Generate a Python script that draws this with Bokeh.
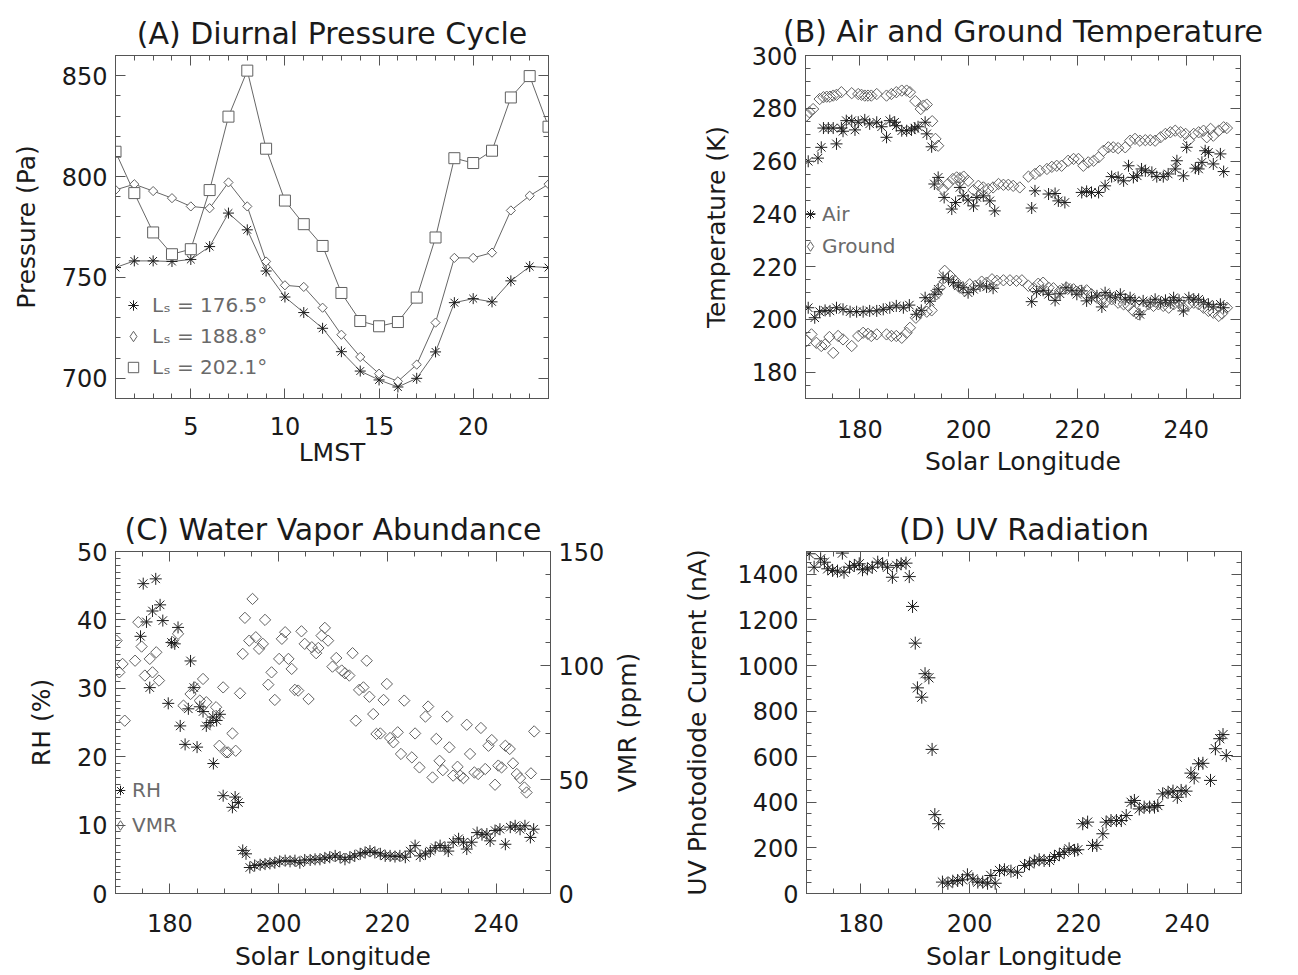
import math
from bokeh.plotting import figure
from bokeh.models import (Range1d, LinearAxis, SingleIntervalTicker, FixedTicker, Legend,
                          LegendItem)
from bokeh.layouts import column, row
from bokeh.embed import file_html
from bokeh.resources import INLINE

# ---------------- Panel A: diurnal pressure cycle ----------------
lmst = [1, 2, 3, 4, 5, 6, 7, 8, 9, 10, 11, 12, 13, 14, 15, 16, 17, 18, 19, 20, 21, 22, 23, 24]
p_1765 = [754.9, 758.2, 758.2, 757.9, 758.9, 765.3, 781.9, 773.6, 753.2, 740.3, 732.6, 724.8,
          713.2, 703.6, 699.2, 695.7, 700.0, 713.1, 737.5, 739.5, 737.9, 748.3, 755.4, 754.9]
p_1888 = [793.4, 796.2, 792.8, 789.3, 785.2, 784.3, 797.1, 785.2, 757.9, 746.1, 745.3, 735.0,
          721.6, 710.6, 702.3, 698.5, 706.8, 727.6, 759.7, 759.7, 762.3, 783.2, 790.5, 796.2]
p_2021 = [812.3, 791.8, 772.3, 761.5, 764.0, 793.3, 829.7, 852.5, 813.8, 788.1, 776.4, 765.6,
          742.3, 728.4, 725.8, 727.9, 740.0, 769.8, 809.1, 806.7, 812.8, 839.2, 849.8, 824.7]
legend_a = ["L\u209b = 176.5\u00b0", "L\u209b = 188.8\u00b0", "L\u209b = 202.1\u00b0"]

# ---------------- Panel B: air and ground temperature ----------------
air_max_ls = [170.5, 172.3, 172.9, 173.3, 174.2, 175.1, 175.7, 176.6, 176.9, 177.5, 178.5, 179.1,
              179.7, 180.9, 181.8, 183.1, 184.0, 184.9, 185.5, 186.4, 186.7, 187.7, 188.6, 189.5,
              190.1, 190.7, 192.0, 192.3, 193.2, 193.7, 194.4, 195.5, 196.9, 197.6, 198.4, 199.0,
              199.9, 200.9, 201.5, 202.7, 203.9, 204.8, 211.6, 212.2, 214.7, 215.9, 216.5, 217.7,
              220.8, 221.7, 222.6, 223.9, 225.1, 226.3, 227.5, 228.5, 229.4, 230.3, 231.0, 231.8,
              232.5, 233.7, 234.6, 235.8, 236.7, 238.0, 238.3, 239.5, 240.1, 241.7, 242.3, 242.9,
              243.5, 244.1, 245.0, 246.3, 246.9]
air_max_t = [259.9, 261.1, 265.2, 272.5, 272.5, 272.5, 266.5, 272.5, 271.3, 275.3, 275.3, 271.8,
             274.7, 275.6, 274.1, 274.7, 273.0, 269.0, 275.3, 274.7, 273.4, 271.5, 271.5, 271.8,
             272.5, 273.0, 274.7, 270.3, 265.4, 251.3, 253.8, 246.2, 241.8, 244.3, 250.0, 246.8,
             245.2, 243.0, 246.2, 246.8, 244.9, 241.1, 242.2, 248.7, 247.5, 247.7, 244.9, 244.3,
             248.1, 248.5, 248.1, 248.1, 250.6, 254.1, 253.8, 252.5, 258.2, 253.8, 254.4, 257.0,
             256.3, 255.7, 254.1, 254.1, 255.1, 257.0, 260.1, 254.4, 265.2, 257.3, 257.0, 259.5,
             263.9, 263.3, 258.9, 262.7, 256.0]
gnd_max_ls = [170.2, 170.7, 171.4, 172.6, 173.3, 173.9, 174.5, 175.1, 175.7, 176.6, 178.5, 179.7,
              180.3, 180.9, 181.5, 182.1, 183.1, 184.9, 185.8, 186.7, 187.7, 188.6, 189.2, 190.2,
              191.2, 191.7, 192.3, 193.3, 193.9, 194.4, 194.4, 195.3, 196.2, 197.1, 197.8, 198.4,
              199.1, 199.9, 200.9, 201.8, 202.7, 203.6, 204.5, 205.5, 206.4, 207.3, 208.2, 209.4,
              211.0, 212.2, 213.1, 214.4, 215.3, 216.2, 217.1, 218.3, 219.3, 220.2, 221.1, 222.0,
              223.0, 223.9, 224.8, 225.7, 226.6, 227.5, 228.8, 229.7, 230.6, 231.5, 232.5, 233.4,
              234.3, 235.3, 236.2, 237.1, 238.0, 239.0, 239.9, 240.5, 241.4, 242.3, 243.2, 243.8,
              244.5, 245.0, 246.0, 246.9, 247.5]
gnd_max_t = [277.2, 278.5, 279.7, 283.5, 284.2, 284.4, 284.4, 284.8, 285.1, 286.1, 285.7, 285.4,
             285.1, 284.8, 284.8, 284.8, 285.4, 284.8, 285.4, 286.1, 286.7, 286.7, 286.1, 282.7,
             279.7, 281.0, 281.4, 275.1, 268.4, 265.8, 251.0, 249.4, 251.3, 253.2, 253.8, 253.5,
             254.1, 252.5, 249.0, 250.6, 250.0, 249.4, 250.0, 251.3, 251.0, 251.0, 250.6, 250.0,
             254.1, 255.1, 256.3, 257.0, 257.8, 258.2, 258.2, 260.1, 260.8, 260.8, 258.2, 259.5,
             260.1, 261.4, 263.9, 265.2, 265.2, 264.9, 265.2, 267.7, 268.4, 267.7, 267.9, 267.9,
             267.7, 269.0, 270.3, 270.9, 271.5, 270.9, 270.3, 267.9, 270.3, 270.9, 271.5, 269.0,
             272.2, 269.6, 271.5, 272.8, 272.5]
air_min_ls = [170.5, 171.7, 172.6, 173.6, 174.5, 175.7, 176.9, 178.2, 179.4, 180.6, 181.8, 183.1,
              184.3, 185.5, 186.7, 188.0, 189.1, 190.4, 191.3, 192.0, 192.9, 193.8, 194.4, 195.3,
              196.3, 197.2, 198.1, 199.0, 199.9, 200.9, 202.1, 203.3, 204.5, 211.6, 212.5, 213.7,
              214.7, 215.9, 216.8, 217.9, 219.0, 219.9, 220.8, 221.7, 222.6, 223.6, 224.5, 225.1,
              226.0, 227.0, 227.9, 228.8, 229.7, 230.6, 231.5, 232.1, 233.4, 234.3, 235.3, 236.2,
              237.1, 237.7, 238.7, 239.5, 240.5, 241.4, 242.3, 243.2, 244.1, 245.0, 246.3, 246.9]
air_min_t = [204.4, 200.6, 202.9, 203.4, 203.2, 204.4, 203.8, 202.9, 202.9, 202.9, 203.2, 203.2,
             203.8, 204.4, 205.1, 204.4, 205.4, 201.9, 203.4, 208.2, 206.9, 209.5, 211.4, 215.8,
             215.2, 213.9, 212.7, 212.0, 210.1, 211.4, 212.7, 212.3, 211.8, 206.7, 210.5, 211.0,
             209.5, 207.2, 209.7, 212.0, 211.0, 209.5, 210.8, 207.0, 208.2, 208.9, 204.7, 210.1,
             208.9, 208.2, 209.5, 207.6, 208.2, 207.0, 201.9, 207.0, 206.3, 207.6, 206.3, 207.2,
             206.3, 208.2, 207.2, 203.2, 208.2, 207.6, 207.6, 206.3, 205.7, 204.7, 205.7, 204.4]
gnd_min_ls = [170.2, 171.1, 172.0, 172.9, 173.6, 174.4, 175.1, 176.0, 176.9, 178.5, 179.7, 180.6,
              181.5, 182.1, 183.1, 184.9, 185.8, 186.7, 187.7, 188.6, 189.2, 190.3, 191.0, 192.3,
              193.2, 194.1, 194.7, 195.6, 196.6, 197.5, 198.4, 199.3, 200.2, 201.2, 202.4, 203.3,
              204.3, 205.2, 206.4, 207.6, 208.8, 209.8, 211.0, 212.0, 212.8, 213.7, 214.7, 215.6,
              216.8, 218.0, 219.3, 220.5, 221.7, 222.6, 223.6, 224.5, 225.4, 226.3, 227.5, 228.5,
              229.4, 230.3, 231.2, 232.1, 233.1, 234.0, 234.9, 235.8, 236.8, 237.7, 238.7, 239.5,
              240.5, 241.4, 242.3, 243.2, 244.1, 245.0, 246.0, 246.6, 247.5]
gnd_min_t = [191.8, 194.3, 191.1, 189.9, 190.5, 193.3, 187.3, 193.7, 192.4, 189.9, 193.7, 194.9,
             194.5, 193.7, 194.3, 194.3, 193.7, 193.7, 193.0, 194.9, 196.8, 200.6, 202.5, 202.9,
             203.4, 209.5, 212.0, 218.4, 216.5, 214.6, 212.0, 210.8, 213.3, 212.7, 214.3, 213.9,
             215.2, 214.6, 214.8, 214.8, 214.6, 214.8, 212.7, 211.8, 213.5, 213.9, 212.0, 211.8,
             210.8, 212.0, 211.4, 210.8, 211.0, 209.5, 208.2, 207.6, 207.0, 207.6, 206.3, 205.7,
             205.1, 203.2, 201.9, 204.4, 205.7, 205.1, 205.7, 205.1, 204.4, 205.7, 206.3, 204.4,
             205.7, 206.3, 205.7, 204.4, 203.2, 202.5, 201.3, 202.2, 204.4]

# ---------------- Panel C: water vapor ----------------
rh_ls = [175.1, 175.7, 174.6, 176.3, 176.8, 177.4, 178.2, 178.7, 179.7, 180.3, 180.9, 181.5,
         181.9, 182.8, 183.4, 183.8, 184.4, 185.0, 185.5, 186.1, 186.7, 187.4, 187.9, 188.6,
         189.2, 188.0, 189.8, 191.5, 192.0, 192.6, 193.4, 194.0, 194.7, 195.6, 196.6, 197.5,
         198.4, 199.3, 200.2, 201.2, 202.1, 203.0, 203.9, 204.8, 205.8, 206.7, 207.6, 208.5,
         209.4, 210.4, 211.3, 212.2, 213.1, 214.0, 215.0, 215.9, 216.8, 217.7, 218.7, 219.6,
         220.5, 221.4, 222.3, 223.3, 224.2, 225.1, 226.0, 227.0, 227.9, 228.8, 229.7, 230.6,
         231.2, 232.1, 233.1, 234.0, 234.6, 235.5, 236.5, 237.4, 238.3, 238.9, 239.8, 240.7,
         241.7, 242.6, 243.5, 244.4, 245.3, 246.3, 246.9]
rh_val = [45.3, 39.7, 37.6, 30.1, 41.3, 46.0, 42.2, 39.9, 27.8, 36.7, 36.5, 38.9,
          24.5, 21.8, 27.0, 34.0, 30.1, 21.4, 27.3, 26.6, 24.5, 25.0, 25.8, 25.3,
          26.2, 19.0, 14.3, 12.6, 14.1, 13.3, 6.3, 5.8, 3.8, 4.1, 4.2, 4.3,
          4.4, 4.5, 4.7, 4.8, 4.7, 4.8, 4.5, 4.9, 4.9, 5.0, 5.0, 5.2,
          5.3, 5.5, 5.3, 5.0, 5.3, 5.5, 5.8, 6.0, 6.2, 6.0, 5.8, 5.5,
          5.5, 5.4, 5.5, 5.3, 6.2, 7.0, 5.5, 5.8, 6.2, 6.7, 7.0, 6.7,
          6.2, 7.5, 8.0, 7.5, 6.5, 7.5, 8.9, 8.6, 8.7, 7.7, 9.2, 9.4,
          7.2, 9.7, 9.9, 9.4, 9.9, 8.2, 9.4]
vmr_ls = [170.2, 170.7, 171.3, 171.7, 173.6, 174.2, 174.8, 175.4, 176.3, 176.8, 177.5, 178.0,
          180.5, 181.5, 182.5, 183.8, 184.6, 185.5, 186.1, 186.7, 188.5, 189.1, 189.8, 190.3,
          190.7, 191.5, 192.1, 192.9, 193.4, 193.8, 194.6, 195.2, 195.8, 196.4, 197.1, 197.5,
          198.1, 198.7, 199.3, 200.1, 200.6, 201.2, 201.8, 202.4, 203.0, 203.6, 204.2, 204.8,
          205.5, 206.1, 206.9, 207.3, 207.9, 208.5, 209.1, 209.9, 210.6, 211.6, 212.2, 213.0,
          213.6, 214.2, 214.8, 215.6, 216.2, 216.7, 217.4, 218.0, 218.7, 219.3, 219.9, 220.5,
          221.1, 221.9, 222.5, 223.1, 224.5, 225.1, 225.9, 227.0, 227.5, 228.3, 229.0, 229.6,
          230.2, 231.0, 231.4, 232.1, 232.9, 233.4, 234.0, 234.6, 235.2, 236.0, 236.7, 237.2,
          238.0, 238.6, 239.2, 239.8, 240.4, 241.0, 241.7, 242.5, 243.1, 243.8, 244.4, 245.2,
          245.6, 246.4, 247.0]
vmr_val = [110.9, 97.0, 100.7, 75.8, 102.1, 119.0, 108.3, 95.6, 102.9, 97.0, 105.8, 93.4,
           110.2, 113.9, 82.4, 87.5, 90.4, 84.6, 94.1, 83.9, 81.7, 64.8, 90.4, 61.9,
           61.9, 70.2, 62.6, 87.8, 105.1, 120.9, 110.9, 129.2, 112.4, 107.3, 109.5, 120.0,
           91.6, 97.0, 84.9, 102.9, 111.7, 114.6, 102.9, 98.5, 89.3, 89.0, 115.0, 109.5,
           85.3, 108.0, 105.4, 107.7, 113.1, 116.5, 110.9, 99.5, 103.3, 97.8, 96.6, 95.6,
           105.4, 75.8, 89.3, 90.4, 102.1, 86.3, 78.7, 70.0, 70.2, 84.9, 91.9, 68.2,
           66.3, 70.7, 61.2, 84.6, 59.7, 70.2, 55.3, 77.6, 82.0, 50.9, 67.8, 58.2,
           54.1, 77.6, 64.1, 51.7, 55.6, 51.7, 50.6, 74.0, 61.2, 53.1, 52.4, 72.6,
           54.6, 64.8, 67.3, 47.7, 56.1, 55.3, 64.8, 63.4, 57.1, 52.4, 50.6, 46.5,
           44.3, 52.7, 71.1]

# ---------------- Panel D: UV radiation ----------------
uv_ls = [170.5, 171.4, 172.6, 173.3, 173.9, 174.8, 175.7, 176.6, 176.9, 177.9, 178.8, 179.7,
         180.3, 181.2, 182.1, 183.1, 184.0, 184.9, 185.8, 186.6, 187.4, 188.3, 188.9, 189.5,
         190.0, 190.4, 191.2, 191.8, 192.5, 193.1, 193.6, 194.3, 195.0, 196.0, 196.9, 197.8,
         198.7, 199.6, 200.6, 201.5, 202.4, 203.3, 203.9, 204.7, 205.5, 206.4, 207.6, 208.8,
         210.1, 211.0, 211.9, 212.8, 213.7, 214.7, 215.6, 216.5, 217.4, 218.3, 219.3, 219.9,
         220.8, 221.7, 222.6, 223.4, 224.5, 225.1, 226.0, 227.0, 227.9, 228.8, 229.7, 230.3,
         231.2, 232.1, 233.1, 234.0, 234.6, 235.5, 236.5, 237.4, 238.2, 238.9, 239.8, 240.7,
         241.3, 242.1, 242.9, 244.3, 245.2, 246.0, 246.6, 247.2]
uv_val = [1490, 1431, 1468, 1453, 1424, 1417, 1414, 1493, 1409, 1431, 1439, 1446,
          1420, 1424, 1431, 1453, 1446, 1431, 1387, 1439, 1446, 1449, 1390, 1259,
          1098, 902, 861, 964, 946, 632, 346, 306, 50, 45, 54, 57,
          60, 82, 64, 50, 50, 45, 79, 45, 101, 104, 98, 93,
          123, 130, 142, 148, 145, 145, 162, 171, 181, 196, 189, 192,
          306, 313, 211, 211, 262, 313, 320, 320, 320, 342, 400, 408,
          371, 379, 379, 379, 386, 437, 444, 449, 422, 452, 449, 528,
          507, 569, 571, 496, 635, 679, 697, 605]

FONT = "DejaVu Sans"
AX = "#555555"
TXT = "#1a1a1a"
LEG = "#6a6a6a"
STAR = "#1e1e1e"
DIA = "#606060"


def style_axis(ax, interval, minor, labels=True, xstand=None):
    ax.ticker = SingleIntervalTicker(interval=interval, num_minor_ticks=minor)
    ax.major_tick_in = 10
    ax.major_tick_out = 0
    ax.minor_tick_in = 5
    ax.minor_tick_out = 0
    ax.major_tick_line_color = AX
    ax.minor_tick_line_color = AX
    ax.axis_line_color = AX
    ax.major_label_text_font = FONT
    if labels:
        ax.major_label_text_color = TXT
        ax.major_label_text_font_size = "24px"
        ax.major_label_standoff = xstand if xstand is not None else 8
    else:
        ax.major_label_text_color = None
        ax.major_label_text_font_size = "1px"
        ax.major_label_standoff = 0
    ax.axis_label_text_font = FONT
    ax.axis_label_text_font_size = "25px"
    ax.axis_label_text_font_style = "normal"
    ax.axis_label_text_color = TXT


def make_fig(title, xr, yr, bl, fw, br, bt, fh, bb, tstand=9):
    p = figure(x_range=Range1d(*xr), y_range=Range1d(*yr), frame_width=fw, frame_height=fh,
               min_border_left=bl, min_border_right=br, min_border_top=bt, min_border_bottom=bb,
               output_backend="svg", toolbar_location=None, title=title)
    p.grid.visible = False
    p.outline_line_color = AX
    p.background_fill_color = "white"
    p.border_fill_color = "white"
    p.title.text_font = FONT
    p.title.text_font_size = "30px"
    p.title.text_font_style = "normal"
    p.title.text_color = TXT
    p.title.align = "center"
    p.title.standoff = tstand
    return p


def mirror(p, xint, xminor, yint, yminor, right=True):
    top = LinearAxis()
    style_axis(top, xint, xminor, labels=False)
    p.add_layout(top, "above")
    if right:
        r = LinearAxis()
        style_axis(r, yint, yminor, labels=False)
        p.add_layout(r, "right")


def make_legend(p, items, loc, gw, gh, spacing, standoff, fsize):
    leg = Legend(items=items, location=loc, orientation="vertical",
                 background_fill_alpha=0, border_line_color=None, padding=0, margin=0,
                 glyph_width=gw, glyph_height=gh, label_height=gh, spacing=spacing,
                 label_standoff=standoff, label_text_font=FONT, label_text_font_size=fsize,
                 label_text_color=LEG, inactive_fill_alpha=0)
    p.add_layout(leg, "center")


# ---------- A ----------
pa = make_fig("(A) Diurnal Pressure Cycle", (1, 24), (690, 860), 115, 433, 101, 54, 343, 90)
style_axis(pa.xaxis[0], 5, 5, xstand=18)
style_axis(pa.yaxis[0], 50, 5)
pa.xaxis[0].axis_label = "LMST"
pa.yaxis[0].axis_label = "Pressure (Pa)"
pa.yaxis[0].axis_label_standoff = 18
pa.xaxis[0].axis_label_standoff = 0
mirror(pa, 5, 5, 50, 5)
for ser in (p_1765, p_1888, p_2021):
    pa.line(lmst, ser, line_color="#666666", line_width=1)
ra1 = pa.scatter(lmst, p_1765, marker="asterisk", size=11, line_color=STAR, line_width=1)
pa.scatter(lmst, p_1888, marker="square", angle=math.pi / 4, size=6.5,
           line_color=DIA, fill_color="white", line_width=1)
ra3 = pa.scatter(lmst, p_2021, marker="square", size=11, line_color=DIA, fill_color="white",
                 line_width=1)
ra2 = pa.scatter(lmst, p_1888, marker="diamond", line_color=DIA, fill_color=None, line_width=1,
                 visible=False)
make_legend(pa, [LegendItem(label=legend_a[0], renderers=[ra1]),
                 LegendItem(label=legend_a[1], renderers=[ra2]),
                 LegendItem(label=legend_a[2], renderers=[ra3])],
            (5, 18), 26, 26, 5, 6, "20px")

# ---------- B ----------
pb = make_fig("(B) Air and Ground Temperature", (170, 250), (170, 300), 156, 435, 58, 55, 343, 89,
              tstand=13)
style_axis(pb.xaxis[0], 20, 4, xstand=21)
style_axis(pb.yaxis[0], 20, 4)
pb.xaxis[0].axis_label = "Solar Longitude"
pb.yaxis[0].axis_label = "Temperature (K)"
pb.yaxis[0].axis_label_standoff = 18
pb.xaxis[0].axis_label_standoff = 6
mirror(pb, 20, 4, 20, 4)
rb1 = pb.scatter(air_max_ls, air_max_t, marker="asterisk", size=12, line_color=STAR, line_width=1)
pb.scatter(air_min_ls, air_min_t, marker="asterisk", size=12, line_color=STAR, line_width=1)
pb.scatter(gnd_max_ls, gnd_max_t, marker="square", angle=math.pi / 4, size=8,
           line_color=DIA, fill_color=None, line_width=1)
pb.scatter(gnd_min_ls, gnd_min_t, marker="square", angle=math.pi / 4, size=8,
           line_color=DIA, fill_color=None, line_width=1)
rb2 = pb.scatter(gnd_max_ls, gnd_max_t, marker="diamond", line_color=DIA, fill_color=None,
                 line_width=1, visible=False)
make_legend(pb, [LegendItem(label="Air", renderers=[rb1]),
                 LegendItem(label="Ground", renderers=[rb2])],
            (-7, 138), 24, 28, 4, 0, "20px")

# ---------- C ----------
pc = make_fig("(C) Water Vapor Abundance", (170, 250), (0, 50), 115, 435, 56, 64, 342, 82)
style_axis(pc.xaxis[0], 20, 4, xstand=20)
style_axis(pc.yaxis[0], 10, 10)
pc.xaxis[0].axis_label = "Solar Longitude"
pc.yaxis[0].axis_label = "RH (%)"
pc.yaxis[0].axis_label_standoff = 18
pc.xaxis[0].axis_label_standoff = 7
mirror(pc, 20, 4, 10, 10, right=False)
pc.extra_y_ranges = {"vmr": Range1d(0, 150)}
rax = LinearAxis(y_range_name="vmr")
style_axis(rax, 50, 5)
pc.add_layout(rax, "right")
rc1 = pc.scatter(rh_ls, rh_val, marker="asterisk", size=12, line_color=STAR, line_width=1)
pc.scatter(vmr_ls, vmr_val, marker="square", angle=math.pi / 4, size=8,
           line_color=DIA, fill_color=None, line_width=1, y_range_name="vmr")
rc2 = pc.scatter(vmr_ls, vmr_val, marker="diamond", line_color=DIA, fill_color=None,
                 line_width=1, y_range_name="vmr", visible=False)
make_legend(pc, [LegendItem(label="RH", renderers=[rc1]),
                 LegendItem(label="VMR", renderers=[rc2])],
            (-7, 54), 24, 28, 7, 0, "20px")

# ---------- D ----------
pd_ = make_fig("(D) UV Radiation", (170, 250), (0, 1500), 199, 435, 58, 64, 342, 82)
style_axis(pd_.xaxis[0], 20, 4, xstand=20)
style_axis(pd_.yaxis[0], 200, 4)
pd_.xaxis[0].axis_label = "Solar Longitude"
pd_.yaxis[0].axis_label = "UV Photodiode Current (nA)"
pd_.yaxis[0].axis_label_standoff = 22
pd_.xaxis[0].axis_label_standoff = 7
mirror(pd_, 20, 4, 200, 4)
pd_.scatter(uv_ls, uv_val, marker="asterisk", size=13, line_color=STAR, line_width=1)

# the VMR axis title of panel C sits in the gap between panels C and D
pd_.extra_y_ranges = {"vmr_title": Range1d(0, 1)}
vmr_title = LinearAxis(y_range_name="vmr_title", axis_label="VMR (ppm)")
vmr_title.ticker = FixedTicker(ticks=[])
vmr_title.axis_line_color = None
vmr_title.major_tick_line_color = None
vmr_title.minor_tick_line_color = None
vmr_title.major_label_text_color = None
vmr_title.major_label_text_font_size = "1px"
vmr_title.major_label_standoff = 0
vmr_title.axis_label_text_font = FONT
vmr_title.axis_label_text_font_size = "25px"
vmr_title.axis_label_text_font_style = "normal"
vmr_title.axis_label_text_color = TXT
vmr_title.axis_label_standoff = 39
pd_.add_layout(vmr_title, "left")

layout = column(row(pa, pb), row(pc, pd_))
open("out.html", "w").write(file_html(layout, INLINE))
